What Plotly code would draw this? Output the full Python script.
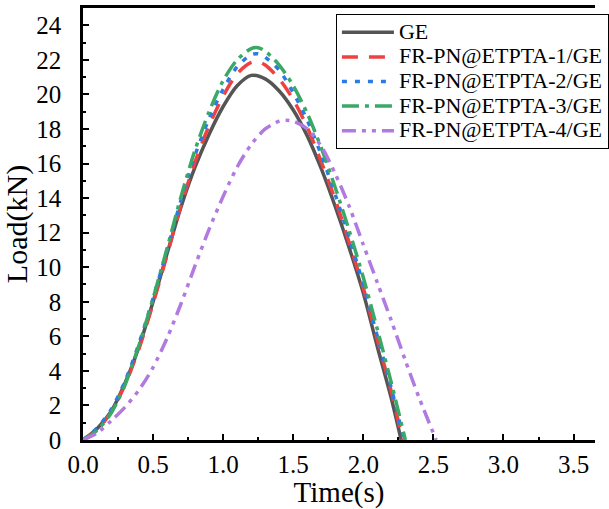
import plotly.graph_objects as go

time_ge = [0, 0.1, 0.2, 0.3, 0.4, 0.5, 0.6, 0.7, 0.8, 0.9, 1.0, 1.1, 1.2, 1.3, 1.4, 1.5, 1.6, 1.7, 1.8, 1.9, 2.0, 2.1, 2.2, 2.27]
load_ge = [0, 0.65, 1.65, 3.3, 5.4, 8.0, 10.8, 13.5, 15.8, 17.7, 19.3, 20.5, 21.1, 20.9, 20.2, 19.1, 17.6, 15.7, 13.5, 11.1, 8.5, 5.4, 2.4, 0]

time_1 = [0, 0.1, 0.2, 0.3, 0.4, 0.5, 0.6, 0.7, 0.8, 0.9, 1.0, 1.1, 1.2, 1.25, 1.3, 1.4, 1.5, 1.6, 1.7, 1.8, 1.9, 2.0, 2.1, 2.2, 2.28]
load_1 = [0, 0.6, 1.6, 3.2, 5.3, 7.9, 10.7, 13.6, 16.1, 18.2, 19.9, 21.2, 21.85, 21.9, 21.7, 20.9, 19.7, 18.1, 16.1, 13.9, 11.4, 8.8, 5.8, 2.8, 0]

time_2 = [0, 0.1, 0.2, 0.3, 0.4, 0.5, 0.6, 0.7, 0.8, 0.9, 1.0, 1.1, 1.2, 1.25, 1.3, 1.4, 1.5, 1.6, 1.7, 1.8, 1.9, 2.0, 2.1, 2.2, 2.29]
load_2 = [0, 0.7, 1.75, 3.4, 5.6, 8.2, 11.0, 13.9, 16.5, 18.6, 20.3, 21.6, 22.3, 22.35, 22.15, 21.4, 20.1, 18.5, 16.5, 14.2, 11.7, 9.0, 6.0, 3.0, 0]

time_3 = [0, 0.1, 0.2, 0.3, 0.4, 0.5, 0.6, 0.7, 0.8, 0.9, 1.0, 1.1, 1.2, 1.25, 1.3, 1.4, 1.5, 1.6, 1.7, 1.8, 1.9, 2.0, 2.1, 2.2, 2.3]
load_3 = [0, 0.55, 1.55, 3.2, 5.5, 8.2, 11.1, 14.1, 16.8, 19.0, 20.8, 22.0, 22.65, 22.7, 22.5, 21.7, 20.5, 18.9, 16.9, 14.6, 12.1, 9.4, 6.4, 3.3, 0]

time_4 = [0, 0.1, 0.2, 0.3, 0.4, 0.5, 0.6, 0.7, 0.8, 0.9, 1.0, 1.1, 1.2, 1.3, 1.4, 1.45, 1.5, 1.6, 1.7, 1.8, 1.9, 2.0, 2.1, 2.2, 2.3, 2.4, 2.52]
load_4 = [0, 0.4, 1.1, 1.9, 2.9, 4.2, 5.9, 7.9, 10.1, 12.2, 14.1, 15.8, 17.1, 18.0, 18.45, 18.5, 18.45, 18.0, 17.0, 15.4, 13.5, 11.3, 9.1, 6.9, 4.6, 2.4, 0]

names = ["GE", "FR-PN@ETPTA-1/GE", "FR-PN@ETPTA-2/GE", "FR-PN@ETPTA-3/GE", "FR-PN@ETPTA-4/GE"]
colors = ["#555555", "#F04141", "#2B7BE4", "#3AA867", "#B07AE0"]
dashes = ["solid", "16px,11px", "5px,8px", "17px,6px,4px,6px", "14px,6px,4px,6px,4px,6px"]
widths = [3.5, 3.5, 3.5, 3.5, 3.5]

series = [(time_ge, load_ge), (time_1, load_1), (time_2, load_2), (time_3, load_3), (time_4, load_4)]

fig = go.Figure()
for (t, l), n, c, d, w in zip(series, names, colors, dashes, widths):
    fig.add_trace(go.Scatter(x=t, y=l, mode="lines",
                             name='<span style="font-size:22px">' + n + '</span>',
                             line=dict(color=c, width=w, dash=d, shape="spline", smoothing=0.8)))

FONT = "Liberation Serif"
fig.update_layout(
    width=609, height=509,
    margin=dict(l=83, r=0, t=8, b=69),
    paper_bgcolor="white", plot_bgcolor="white",
    font=dict(family=FONT, size=25, color="black"),
    showlegend=True,
    legend=dict(x=0.494, y=0.986, xanchor="left", yanchor="top",
                bgcolor="white", bordercolor="black", borderwidth=1,
                font=dict(family=FONT, size=16.6, color="black"),
                tracegroupgap=0, itemwidth=52),
    xaxis=dict(range=[0, 3.653], dtick=0.5, tick0=0, tickformat=".1f",
               showline=True, linecolor="black", linewidth=2.5, mirror=True,
               ticks="inside", ticklen=6, tickwidth=2, tickcolor="black",
               minor=dict(dtick=0.25, ticks="inside", ticklen=3.5, tickwidth=2, tickcolor="black"),
               showgrid=False, zeroline=False, ticklabelstandoff=0,
               title=dict(text="Time(s)", font=dict(family=FONT, size=29), standoff=5),
               tickfont=dict(family=FONT, size=25)),
    yaxis=dict(range=[0, 25], dtick=2, tick0=0,
               showline=True, linecolor="black", linewidth=2.5, mirror=False,
               ticks="inside", ticklen=6, tickwidth=2, tickcolor="black",
               minor=dict(dtick=1, ticks="inside", ticklen=3.5, tickwidth=2, tickcolor="black"),
               showgrid=False, zeroline=False, ticklabelstandoff=14,
               title=dict(text="Load(kN)", font=dict(family=FONT, size=30), standoff=0),
               tickfont=dict(family=FONT, size=25)),
)

fig.write_html("out.html")
